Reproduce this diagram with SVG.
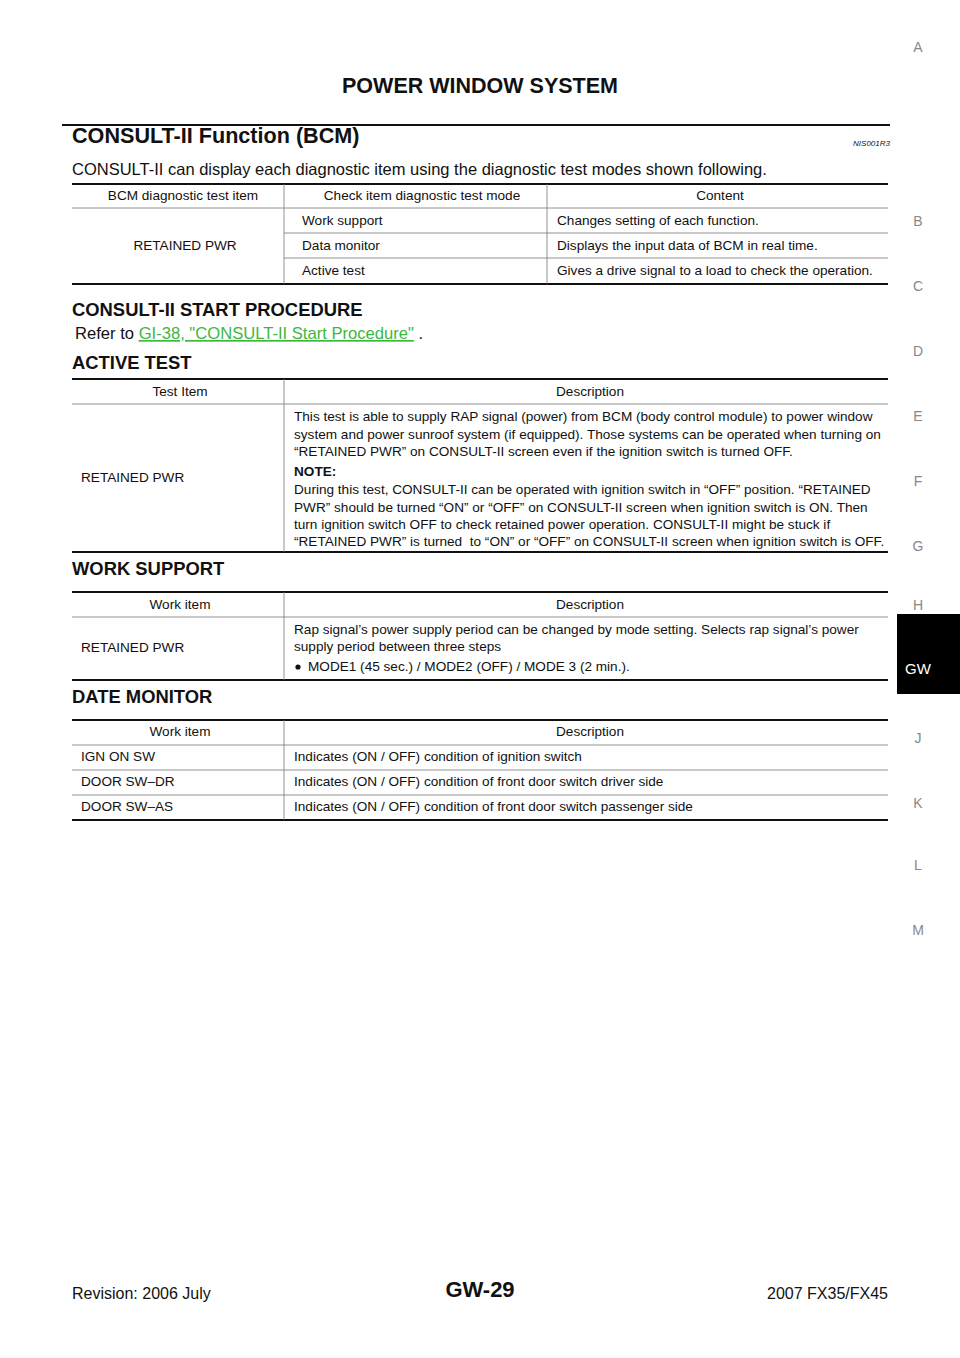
<svg xmlns="http://www.w3.org/2000/svg" width="960" height="1358" viewBox="0 0 960 1358">
<style>
text{font-family:"Liberation Sans",Arial,sans-serif;fill:#111}
.h{font-weight:bold;font-size:18.4px}
.t{font-size:13.6px}
.b{font-size:16px}
.s{font-size:14px;fill:#888}
.th{stroke:#111;stroke-width:2.2}
.tn{stroke:#777;stroke-width:0.8}
</style>
<rect width="960" height="1358" fill="#fff"/>
<text x="480" y="93" text-anchor="middle" style="font-weight:bold;font-size:21.5px">POWER WINDOW SYSTEM</text>
<line x1="62" y1="125" x2="890" y2="125" class="th"/>
<text x="72" y="143" style="font-weight:bold;font-size:21.6px">CONSULT-II Function (BCM)</text>
<text x="890" y="146" text-anchor="end" style="font-size:8px;font-style:italic">NIS001R3</text>
<text x="72" y="175" style="font-size:16.5px">CONSULT-II can display each diagnostic item using the diagnostic test modes shown following.</text>
<g id="table1">
<line x1="72" y1="184" x2="888" y2="184" class="th"/>
<line x1="72" y1="208" x2="888" y2="208" class="tn"/>
<line x1="284" y1="233" x2="888" y2="233" class="tn"/>
<line x1="284" y1="258" x2="888" y2="258" class="tn"/>
<line x1="72" y1="284" x2="888" y2="284" class="th"/>
<line x1="284" y1="184" x2="284" y2="284" class="tn"/>
<line x1="547" y1="184" x2="547" y2="284" class="tn"/>
<text x="183" y="200" text-anchor="middle" class="t">BCM diagnostic test item</text>
<text x="422" y="200" text-anchor="middle" class="t">Check item diagnostic test mode</text>
<text x="720" y="200" text-anchor="middle" class="t">Content</text>
<text x="185" y="250" text-anchor="middle" class="t">RETAINED PWR</text>
<text x="302" y="225" class="t">Work support</text>
<text x="302" y="250" class="t">Data monitor</text>
<text x="302" y="275" class="t">Active test</text>
<text x="557" y="225" class="t">Changes setting of each function.</text>
<text x="557" y="250" class="t">Displays the input data of BCM in real time.</text>
<text x="557" y="275" class="t">Gives a drive signal to a load to check the operation.</text>
</g>
<text x="72" y="316" class="h">CONSULT-II START PROCEDURE</text>
<text x="75" y="339" style="font-size:16.6px">Refer to <tspan style="fill:#3cb83c;text-decoration:underline">GI-38, "CONSULT-II Start Procedure"</tspan> .</text>
<text x="72" y="369" class="h">ACTIVE TEST</text>
<g id="table2">
<line x1="72" y1="379" x2="888" y2="379" class="th"/>
<line x1="72" y1="404" x2="888" y2="404" class="tn"/>
<line x1="72" y1="552" x2="888" y2="552" class="th"/>
<line x1="284" y1="379" x2="284" y2="552" class="tn"/>
<text x="180" y="396" text-anchor="middle" class="t">Test Item</text>
<text x="590" y="396" text-anchor="middle" class="t">Description</text>
<text x="81" y="482" class="t">RETAINED PWR</text>
<text x="294" y="421" class="t">This test is able to supply RAP signal (power) from BCM (body control module) to power window</text>
<text x="294" y="439" class="t">system and power sunroof system (if equipped). Those systems can be operated when turning on</text>
<text x="294" y="456" class="t">“RETAINED PWR” on CONSULT-II screen even if the ignition switch is turned OFF.</text>
<text x="294" y="476" class="t" font-weight="bold">NOTE:</text>
<text x="294" y="494" class="t">During this test, CONSULT-II can be operated with ignition switch in “OFF” position. “RETAINED</text>
<text x="294" y="512" class="t">PWR” should be turned “ON” or “OFF” on CONSULT-II screen when ignition switch is ON. Then</text>
<text x="294" y="529" class="t">turn ignition switch OFF to check retained power operation. CONSULT-II might be stuck if</text>
<text x="294" y="546" class="t" xml:space="preserve">“RETAINED PWR” is turned  to “ON” or “OFF” on CONSULT-II screen when ignition switch is OFF.</text>
</g>
<text x="72" y="575" class="h">WORK SUPPORT</text>
<g id="table3">
<line x1="72" y1="592" x2="888" y2="592" class="th"/>
<line x1="72" y1="617" x2="888" y2="617" class="tn"/>
<line x1="72" y1="680" x2="888" y2="680" class="th"/>
<line x1="284" y1="592" x2="284" y2="680" class="tn"/>
<text x="180" y="609" text-anchor="middle" class="t">Work item</text>
<text x="590" y="609" text-anchor="middle" class="t">Description</text>
<text x="81" y="652" class="t">RETAINED PWR</text>
<text x="294" y="634" class="t">Rap signal’s power supply period can be changed by mode setting. Selects rap signal’s power</text>
<text x="294" y="651" class="t">supply period between three steps</text>
<circle cx="298" cy="667" r="2.6" fill="#111"/>
<text x="308" y="671" class="t">MODE1 (45 sec.) / MODE2 (OFF) / MODE 3 (2 min.).</text>
</g>
<text x="72" y="703" class="h">DATE MONITOR</text>
<g id="table4">
<line x1="72" y1="720" x2="888" y2="720" class="th"/>
<line x1="72" y1="745" x2="888" y2="745" class="tn"/>
<line x1="72" y1="770" x2="888" y2="770" class="tn"/>
<line x1="72" y1="795" x2="888" y2="795" class="tn"/>
<line x1="72" y1="820" x2="888" y2="820" class="th"/>
<line x1="284" y1="720" x2="284" y2="820" class="tn"/>
<text x="180" y="736" text-anchor="middle" class="t">Work item</text>
<text x="590" y="736" text-anchor="middle" class="t">Description</text>
<text x="81" y="761" class="t">IGN ON SW</text>
<text x="81" y="786" class="t">DOOR SW–DR</text>
<text x="81" y="811" class="t">DOOR SW–AS</text>
<text x="294" y="761" class="t">Indicates (ON / OFF) condition of ignition switch</text>
<text x="294" y="786" class="t">Indicates (ON / OFF) condition of front door switch driver side</text>
<text x="294" y="811" class="t">Indicates (ON / OFF) condition of front door switch passenger side</text>
</g>
<g id="sidebar" text-anchor="middle">
<text x="918" y="52" class="s">A</text>
<text x="918" y="226" class="s">B</text>
<text x="918" y="291" class="s">C</text>
<text x="918" y="356" class="s">D</text>
<text x="918" y="421" class="s">E</text>
<text x="918" y="486" class="s">F</text>
<text x="918" y="551" class="s">G</text>
<text x="918" y="610" class="s">H</text>
<rect x="897" y="614" width="63" height="80" fill="#000"/>
<text x="918" y="674" style="font-size:15px;fill:#fff">GW</text>
<text x="918" y="743" class="s">J</text>
<text x="918" y="808" class="s">K</text>
<text x="918" y="870" class="s">L</text>
<text x="918" y="935" class="s">M</text>
</g>
<text x="72" y="1299" class="b">Revision: 2006 July</text>
<text x="480" y="1297" text-anchor="middle" style="font-weight:bold;font-size:22px">GW-29</text>
<text x="888" y="1299" text-anchor="end" class="b">2007 FX35/FX45</text>
</svg>
